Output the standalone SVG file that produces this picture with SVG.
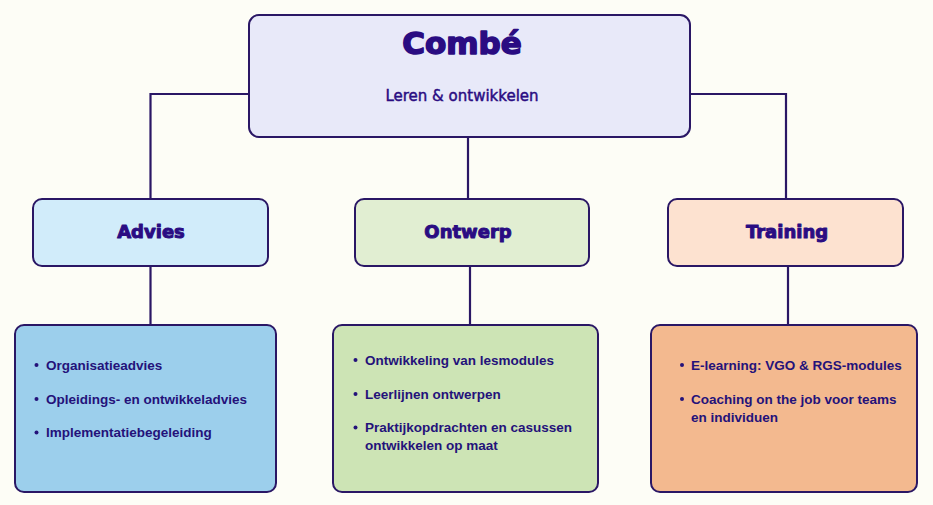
<svg xmlns="http://www.w3.org/2000/svg" width="933" height="505" viewBox="0 0 933 505">
<style>
.bx{stroke:#2a1765;stroke-width:2}
.ln{stroke:#2a1765;stroke-width:2.2;fill:none}
.hd{font-family:"DejaVu Sans",sans-serif;font-weight:bold;font-size:18px;fill:#2a0c82;stroke:#2a0c82;stroke-width:1;stroke-linejoin:round;text-anchor:middle}
.tt{font-family:"DejaVu Sans",sans-serif;font-weight:bold;font-size:31px;fill:#2a0c82;stroke:#2a0c82;stroke-width:1.6;stroke-linejoin:round;text-anchor:middle}
.sub{font-family:"DejaVu Sans",sans-serif;font-size:15px;fill:#2a0c82;stroke:#2a0c82;stroke-width:0.45;text-anchor:middle}
.it{font-family:"Liberation Sans",Arial,sans-serif;font-weight:bold;font-size:13.5px;fill:#24127a}
.bl{fill:#24127a}
</style>
<rect width="933" height="505" fill="#fdfdf6"/>
<g id="connectors">
<path class="ln" d="M249 94 H150.5 V199"/>
<path class="ln" d="M690 94 H786 V199"/>
<path class="ln" d="M468 137 V199"/>
<path class="ln" d="M150.5 266 V325"/>
<path class="ln" d="M470 266 V325"/>
<path class="ln" d="M788 266 V325"/>
</g>
<g id="combe">
<rect class="bx" x="249" y="15" width="441" height="122" rx="10" fill="#e8e9f9"/>
<text class="tt" x="462" y="54">Combé</text>
<text class="sub" x="462" y="101">Leren &amp; ontwikkelen</text>
</g>
<g id="advies">
<rect class="bx" x="33" y="199" width="235" height="67" rx="9" fill="#d1ecfa"/>
<text class="hd" x="151" y="238">Advies</text>
</g>
<g id="ontwerp">
<rect class="bx" x="355" y="199" width="234" height="67" rx="9" fill="#e1eed2"/>
<text class="hd" x="468" y="238">Ontwerp</text>
</g>
<g id="training">
<rect class="bx" x="668" y="199" width="235" height="67" rx="9" fill="#fde2d0"/>
<text class="hd" x="787" y="238">Training</text>
</g>
<g id="advies-details">
<rect class="bx" x="15" y="325" width="261" height="167" rx="9" fill="#9ccfec"/>
<circle class="bl" cx="36.5" cy="365" r="2"/>
<text class="it" x="46" y="369.5">Organisatieadvies</text>
<circle class="bl" cx="36.5" cy="399" r="2"/>
<text class="it" x="46" y="403.5">Opleidings- en ontwikkeladvies</text>
<circle class="bl" cx="36.5" cy="432.5" r="2"/>
<text class="it" x="46" y="437">Implementatiebegeleiding</text>
</g>
<g id="ontwerp-details">
<rect class="bx" x="333" y="325" width="265" height="167" rx="9" fill="#cde4b5"/>
<circle class="bl" cx="355.5" cy="360" r="2"/>
<text class="it" x="365" y="364.5">Ontwikkeling van lesmodules</text>
<circle class="bl" cx="355.5" cy="394" r="2"/>
<text class="it" x="365" y="398.5">Leerlijnen ontwerpen</text>
<circle class="bl" cx="355.5" cy="427.5" r="2"/>
<text class="it" x="365" y="432">Praktijkopdrachten en casussen</text>
<text class="it" x="365" y="450">ontwikkelen op maat</text>
</g>
<g id="training-details">
<rect class="bx" x="651" y="325" width="266" height="167" rx="9" fill="#f3b98f"/>
<circle class="bl" cx="682" cy="365" r="2"/>
<text class="it" x="691" y="369.5">E-learning: VGO &amp; RGS-modules</text>
<circle class="bl" cx="682" cy="399" r="2"/>
<text class="it" x="691" y="403.5">Coaching on the job voor teams</text>
<text class="it" x="691" y="421.5">en individuen</text>
</g>
</svg>
